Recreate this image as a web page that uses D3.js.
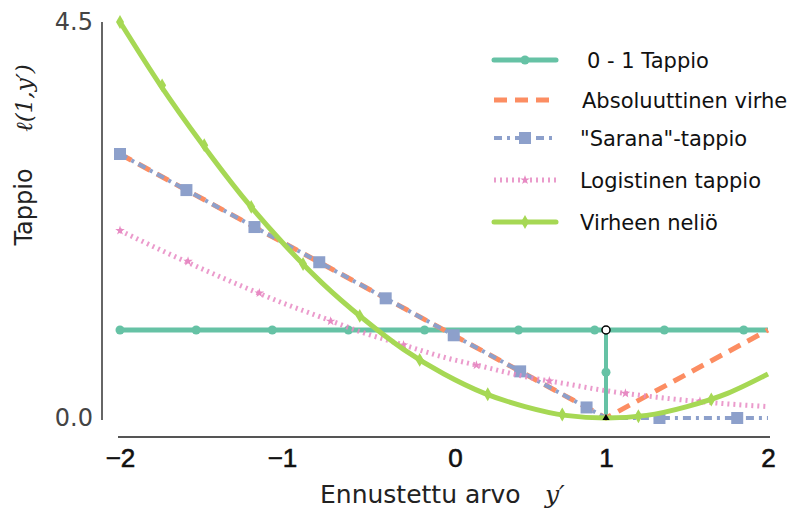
<!DOCTYPE html>
<html>
<head>
<meta charset="utf-8">
<script src="https://cdn.jsdelivr.net/npm/d3@7"></script>
<style>
  body { margin: 0; background: #fff; }
  svg { display: block; }
</style>
</head>
<body>
<script>
// data (x = ennuste y', y = tappio)
var xTicks = [-2, -1, 0, 1, 2];
var yTicks = [0, 4.5];

var zeroOne = [[-2, 1], [2, 1]];
var zeroOneStep = [[1, 1], [1, 0]];
var zeroOneMarks = [[-2, 1], [-1.53, 1], [-1.06, 1], [-0.59, 1], [-0.12, 1], [0.46, 1], [0.93, 1], [1, 0.52], [1.36, 1], [1.85, 1]];

var absErr = [[-2, 3], [1, 0], [2, 1]];

var hinge = [[-2, 3], [1, 0], [2, 0]];
var hingeMarks = [[-2, 3], [-1.59, 2.59], [-1.17, 2.17], [-0.77, 1.77], [-0.36, 1.36], [0.06, 0.94], [0.47, 0.53], [0.88, 0.12], [1.33, 0], [1.81, 0]];

var logistic = [[-2, 2.13], [-1.75, 1.91], [-1.5, 1.70], [-1.25, 1.50], [-1, 1.31], [-0.75, 1.14], [-0.5, 0.97], [-0.25, 0.83],
  [0, 0.69], [0.25, 0.58], [0.5, 0.47], [0.75, 0.39], [1, 0.31], [1.25, 0.25], [1.5, 0.20], [1.75, 0.16], [2, 0.13]];
var logisticMarks = [[-2, 2.13], [-1.58, 1.78], [-1.14, 1.42], [-0.70, 1.10], [-0.25, 0.83], [0.20, 0.60], [0.65, 0.42], [1.12, 0.28], [1.58, 0.19]];

var squared = [[-2, 4.5], [-1.75, 3.78], [-1.5, 3.13], [-1.25, 2.53], [-1, 2.0], [-0.75, 1.53], [-0.5, 1.13], [-0.25, 0.78],
  [0, 0.5], [0.25, 0.28], [0.5, 0.13], [0.75, 0.03], [1, 0], [1.25, 0.03], [1.5, 0.13], [1.75, 0.28], [2, 0.5]];
var squaredMarks = [[-2, 4.5], [-1.74, 3.78], [-1.48, 3.10], [-1.19, 2.40], [-0.87, 1.75], [-0.52, 1.16], [-0.15, 0.66], [0.27, 0.27], [0.73, 0.04], [1.2, 0.02], [1.65, 0.21]];

var legendLabels = ["0 - 1 Tappio", "Absoluuttinen virhe", "\"Sarana\"-tappio", "Logistinen tappio", "Virheen neliö"];

var colors = { zeroOne: "#66c2a5", abs: "#fc8d62", hinge: "#8da0cb", logistic: "#e78ac3", squared: "#a6d854" };

var width = 800, height = 511;

var x = d3.scaleLinear().domain([-2, 2]).range([120, 768]);
var y = d3.scaleLinear().domain([0, 4.5]).range([418, 22]);

var svg = d3.select("body").append("svg")
    .attr("width", width)
    .attr("height", height);

var line = d3.line()
    .x(function (d) { return x(d[0]); })
    .y(function (d) { return y(d[1]); });
var smooth = d3.line()
    .x(function (d) { return x(d[0]); })
    .y(function (d) { return y(d[1]); })
    .curve(d3.curveMonotoneX);

// axes (spines drawn apart, like the original)
var yAxis = d3.axisLeft(y).tickValues(yTicks).tickFormat(d3.format(".1f")).tickSize(0).tickPadding(9);
var gy = svg.append("g").attr("transform", "translate(102,0)").call(yAxis);
gy.select(".domain").attr("stroke", "#333").attr("stroke-width", 1.5).attr("d", "M0," + y(4.5) + "V" + (y(0) + 2));
gy.selectAll("text").attr("font-family", "DejaVu Sans").attr("font-size", 24).attr("fill", "#444");

var xAxis = d3.axisBottom(x).tickValues(xTicks).tickFormat(function (d) { return d < 0 ? "\u2212" + (-d) : d; }).tickSize(0).tickPadding(12);
var gx = svg.append("g").attr("transform", "translate(0,437)").call(xAxis);
gx.select(".domain").attr("stroke", "#555").attr("stroke-width", 2).attr("d", "M118,0H770");
gx.selectAll("text").attr("font-family", "Liberation Sans").attr("font-size", 26).attr("fill", "#111")
    .attr("stroke", "#111").attr("stroke-width", 0.6)
    .attr("dx", function (d) { return d === 0 ? 11 : 0; });

// axis titles
svg.append("text")
    .attr("x", 320).attr("y", 503)
    .attr("font-family", "DejaVu Sans").attr("font-size", 25).attr("fill", "#222")
    .text("Ennustettu arvo");
svg.append("text")
    .attr("x", 545).attr("y", 503)
    .attr("font-family", "DejaVu Serif").attr("font-style", "italic").attr("font-size", 25).attr("fill", "#222")
    .text("y\u2032");

svg.append("text")
    .attr("transform", "translate(32,207) rotate(-90)")
    .attr("text-anchor", "middle")
    .attr("font-family", "DejaVu Sans").attr("font-size", 24).attr("fill", "#222")
    .text("Tappio");
svg.append("text")
    .attr("transform", "translate(32,98) rotate(-90)")
    .attr("text-anchor", "middle")
    .attr("font-family", "DejaVu Serif").attr("font-style", "italic").attr("font-size", 23).attr("fill", "#222")
    .text("\u2113(1,y\u2032)");

var plot = svg.append("g");

// 0-1 tappio
plot.append("path").attr("d", line(zeroOne)).attr("fill", "none").attr("stroke", colors.zeroOne).attr("stroke-width", 5);
plot.append("path").attr("d", line(zeroOneStep)).attr("fill", "none").attr("stroke", colors.zeroOne).attr("stroke-width", 4);
plot.selectAll(".m01").data(zeroOneMarks).enter().append("circle")
    .attr("cx", function (d) { return x(d[0]); })
    .attr("cy", function (d) { return y(d[1]); })
    .attr("r", 4.5).attr("fill", colors.zeroOne);

// absoluuttinen virhe
plot.append("path").attr("d", line(absErr)).attr("fill", "none").attr("stroke", colors.abs)
    .attr("stroke-width", 5).attr("stroke-dasharray", "13,8");

// sarana
plot.append("path").attr("d", line(hinge)).attr("fill", "none").attr("stroke", colors.hinge)
    .attr("stroke-width", 4).attr("stroke-dasharray", "8,5,3,5");
plot.selectAll(".mh").data(hingeMarks).enter().append("rect")
    .attr("x", function (d) { return x(d[0]) - 6; })
    .attr("y", function (d) { return y(d[1]) - 6; })
    .attr("width", 12).attr("height", 12).attr("fill", colors.hinge);

// logistinen
plot.append("path").attr("d", smooth(logistic)).attr("fill", "none").attr("stroke", colors.logistic)
    .attr("stroke-width", 5).attr("stroke-dasharray", "2,4").attr("opacity", 0.85);
var star = d3.symbol().type(d3.symbolStar).size(28);
plot.selectAll(".ml").data(logisticMarks).enter().append("path")
    .attr("transform", function (d) { return "translate(" + x(d[0]) + "," + y(d[1]) + ")"; })
    .attr("d", star).attr("fill", colors.logistic);

// virheen neliö
plot.append("path").attr("d", smooth(squared)).attr("fill", "none").attr("stroke", colors.squared)
    .attr("stroke-width", 5);
var diamond = d3.symbol().type(d3.symbolDiamond).size(55);
plot.selectAll(".ms").data(squaredMarks).enter().append("path")
    .attr("transform", function (d) { return "translate(" + x(d[0]) + "," + y(d[1]) + ")"; })
    .attr("d", diamond).attr("fill", colors.squared);

// step end points
plot.append("circle").attr("cx", x(1)).attr("cy", y(1)).attr("r", 4)
    .attr("fill", "#fff").attr("stroke", "#000").attr("stroke-width", 1.5);
plot.append("path").attr("transform", "translate(" + x(1) + "," + y(0) + ")")
    .attr("d", d3.symbol().type(d3.symbolTriangle).size(22)).attr("fill", "#000");

// legend
var legendY = [60, 100, 138, 180, 222];
var legendTextX = [587, 582, 580, 580, 580];
var legend = svg.append("g");
legendLabels.forEach(function (label, i) {
    var g = legend.append("g").attr("transform", "translate(0," + legendY[i] + ")");
    var ln = g.append("line").attr("x1", 494).attr("x2", 556).attr("y1", 0).attr("y2", 0).attr("stroke-width", 5);
    if (i === 0) {
        ln.attr("stroke", colors.zeroOne).attr("stroke-linecap", "round");
        g.append("circle").attr("cx", 525).attr("r", 4.5).attr("fill", colors.zeroOne);
    } else if (i === 1) {
        ln.attr("stroke", colors.abs).attr("stroke-dasharray", "13,8");
    } else if (i === 2) {
        ln.attr("stroke", colors.hinge).attr("stroke-width", 4).attr("stroke-dasharray", "8,5,3,5");
        g.append("rect").attr("x", 519).attr("y", -6).attr("width", 12).attr("height", 12).attr("fill", colors.hinge);
    } else if (i === 3) {
        ln.attr("stroke", colors.logistic).attr("stroke-dasharray", "2,4").attr("opacity", 0.85);
        g.append("path").attr("transform", "translate(525,0)").attr("d", star).attr("fill", colors.logistic);
    } else {
        ln.attr("stroke", colors.squared).attr("stroke-linecap", "round");
        g.append("path").attr("transform", "translate(525,0)").attr("d", diamond).attr("fill", colors.squared);
    }
    g.append("text").attr("x", legendTextX[i]).attr("y", 7.5)
        .attr("font-family", "DejaVu Sans").attr("font-size", 21).attr("fill", "#111")
        .text(label);
});
</script>
</body>
</html>
